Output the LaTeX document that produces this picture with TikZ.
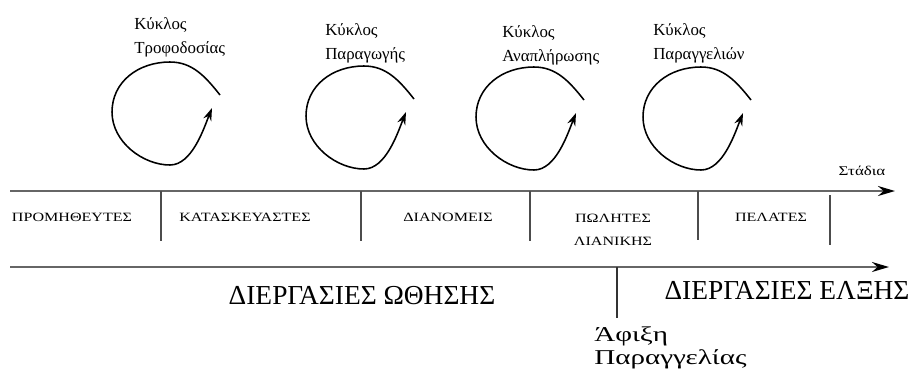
\documentclass[tikz,border=0pt]{standalone}
\usepackage{fontspec}
\setmainfont{Liberation Serif}
\usepackage{graphicx}
\usepackage{tikz}
\usepackage{xcolor}
\usetikzlibrary{arrows.meta}
\newcommand\widecaps[1]{\scalebox{1.27}[1]{#1}}

\begin{document}
\begin{tikzpicture}[x=0.025cm,y=-0.025cm,
  axis/.style={draw=black!60,line width=2pt,-{Stealth[length=12pt,width=7pt,black]}},
  tick/.style={draw=black!70,line width=1.2pt},
  loop/.style={draw=black,line width=1.1pt,-{Stealth[length=9pt,width=6pt]}},
  cyclelabel/.style={anchor=north west,align=left,inner sep=0pt,font=\fontsize{12}{17.5}\selectfont},
  stage/.style={anchor=base,inner sep=0pt,font=\fontsize{9}{10}\selectfont},
  flow/.style={anchor=base,inner sep=0pt,font=\fontsize{19.5}{20}\selectfont},
  arrival/.style={anchor=base west,inner sep=0pt,font=\fontsize{15}{15}\selectfont}]
\useasboundingbox (0,0) rectangle (911,371);

\node[cyclelabel] (cyc1) at (134,17) {Κύκλος\\Τροφοδοσίας};
\node[cyclelabel] (cyc2) at (325,23) {Κύκλος\\Παραγωγής};
\node[cyclelabel] (cyc3) at (502,25) {Κύκλος\\Αναπλήρωσης};
\node[cyclelabel] (cyc4) at (653,23) {Κύκλος\\Παραγγελιών};

\draw[loop] (220,95) .. controls (205,76) and (192,62) .. (170,62) .. controls (138,62) and (112,82) .. (112,112) .. controls (112,142) and (143,165) .. (170,165) .. controls (192,165) and (204,128) .. (212,108);
\begin{scope}[shift={(194,4)}]
\draw[loop] (220,95) .. controls (205,76) and (192,62) .. (170,62) .. controls (138,62) and (112,82) .. (112,112) .. controls (112,142) and (143,165) .. (170,165) .. controls (192,165) and (204,128) .. (212,108);
\end{scope}
\begin{scope}[shift={(364,5)}]
\draw[loop] (220,95) .. controls (205,76) and (192,62) .. (170,62) .. controls (138,62) and (112,82) .. (112,112) .. controls (112,142) and (143,165) .. (170,165) .. controls (192,165) and (204,128) .. (212,108);
\end{scope}
\begin{scope}[shift={(531,5)}]
\draw[loop] (220,95) .. controls (205,76) and (192,62) .. (170,62) .. controls (138,62) and (112,82) .. (112,112) .. controls (112,142) and (143,165) .. (170,165) .. controls (192,165) and (204,128) .. (212,108);
\end{scope}

\coordinate (stagestart) at (10,191);
\coordinate (stageend) at (895,191);
\draw[axis] (stagestart) -- (stageend);
\node[anchor=base,inner sep=0pt,font=\fontsize{9.5}{10}\selectfont] (stadia) at (862,175) {\widecaps{Στάδια}};

\coordinate (t1a) at (161,191);
\coordinate (t1b) at (161,241);
\coordinate (t2a) at (361,191);
\coordinate (t2b) at (361,241);
\coordinate (t3a) at (530,191);
\coordinate (t3b) at (530,241);
\coordinate (t4a) at (698,191);
\coordinate (t4b) at (698,240);
\coordinate (t5a) at (830,195);
\coordinate (t5b) at (830,245);
\draw[tick] (t1a) -- (t1b);
\draw[tick] (t2a) -- (t2b);
\draw[tick] (t3a) -- (t3b);
\draw[tick] (t4a) -- (t4b);
\draw[tick] (t5a) -- (t5b);

\node[stage] (suppliers) at (72,221) {\widecaps{ΠΡΟΜΗΘΕΥΤΕΣ}};
\node[stage] (makers) at (245,221) {\widecaps{ΚΑΤΑΣΚΕΥΑΣΤΕΣ}};
\node[stage] (distrib) at (448,221) {\widecaps{ΔΙΑΝΟΜΕΙΣ}};
\node[stage] (retail) at (613,222) {\widecaps{ΠΩΛΗΤΕΣ}};
\node[stage] (retail2) at (613,245) {\widecaps{ΛΙΑΝΙΚΗΣ}};
\node[stage] (customers) at (771,221) {\widecaps{ΠΕΛΑΤΕΣ}};

\coordinate (procstart) at (10,267);
\coordinate (procend) at (889,267);
\draw[axis] (procstart) -- (procend);
\coordinate (ordtop) at (617,267);
\coordinate (ordbot) at (617,318);
\draw[draw=black!80,line width=0.8pt] (ordtop) -- (ordbot);

\node[flow] (push) at (362,304) {ΔΙΕΡΓΑΣΙΕΣ ΩΘΗΣΗΣ};
\node[flow] (pull) at (787,299) {ΔΙΕΡΓΑΣΙΕΣ ΕΛΞΗΣ};
\node[arrival] (arrival) at (594,341) {\scalebox{1.38}[1]{Άφιξη}};
\node[arrival] (arrival2) at (594,364) {\scalebox{1.38}[1]{Παραγγελίας}};
\end{tikzpicture}
\end{document}
